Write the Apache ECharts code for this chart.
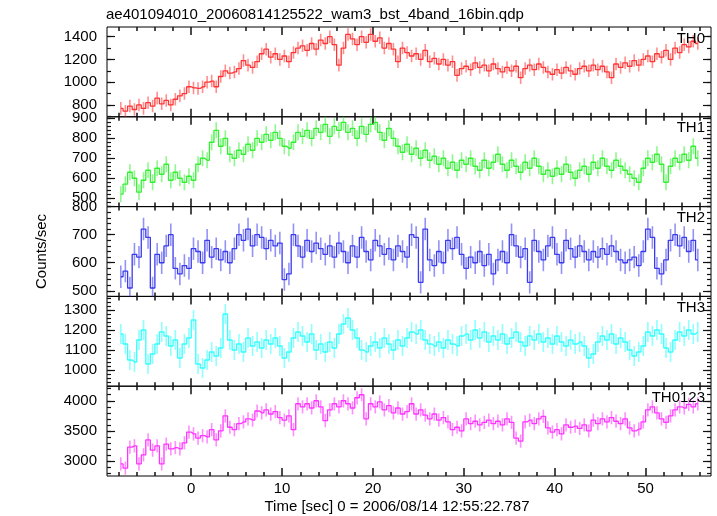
<!DOCTYPE html>
<html>
<head>
<meta charset="utf-8">
<script src="https://cdn.jsdelivr.net/npm/echarts@6/dist/echarts.min.js"></script>
<style>html,body{margin:0;padding:0;background:#fff}#c{width:717px;height:516px}</style>
</head>
<body>
<div id="c"></div>
<script>
// ---- data (bin centres: T_START + i*T_STEP, bin width T_STEP) ----
const T_START = -7.75;
const T_STEP = 0.5;
const titleText = 'ae401094010_20060814125522_wam3_bst_4band_16bin.qdp';
const xTitle = 'Time [sec] 0 = 2006/08/14 12:55:22.787';
const yTitle = 'Counts/sec';
const panelNames = ['TH0', 'TH1', 'TH2', 'TH3', 'TH0123'];
const xTickLabels = [0, 10, 20, 30, 40, 50];

const th0 = [770,745,790,760, 800,770,820,790, 860,810,840,800, 850,880,900,960,
  950,945,960,1000, 1010,960,1050,1100, 1080,1090,1120,1190, 1150,1130,1180,1250,
  1290,1220,1250,1200, 1230,1180,1260,1300, 1320,1280,1340,1290, 1370,1340,1400,1330,
  1150,1300,1420,1380, 1330,1400,1350,1420, 1360,1390,1300,1340, 1290,1180,1300,1260,
  1230,1250,1200,1280, 1180,1210,1160,1200, 1150,1180,1060,1120, 1140,1110,1170,1130,
  1150,1100,1160,1120, 1090,1130,1100,1140, 1040,1120,1150,1110, 1160,1130,1090,1070,
  1110,1080,1130,1100, 1070,1120,1140,1100, 1150,1110,1140,1090, 1040,1160,1130,1170,
  1140,1190,1150,1200, 1230,1180,1250,1220, 1280,1200,1300,1260, 1330,1310,1360,1340];
const th1 = [520,570,630,600, 530,590,640,580, 650,620,670,590, 630,600,580,610,
  590,670,700,690, 780,840,760,800, 720,700,740,720, 770,740,800,780,
  820,790,830,800, 760,750,780,830, 810,840,800,850, 830,870,810,860,
  840,880,830,850, 800,860,820,870, 880,830,790,850, 800,760,730,770,
  720,750,700,740, 690,710,670,700, 650,680,640,690, 670,700,660,640,
  690,650,680,720, 670,640,690,660, 630,680,650,700, 660,620,640,610,
  650,620,670,630, 600,640,660,620, 680,650,700,660, 640,690,660,640,
  620,600,580,650, 700,680,720,670, 580,660,700,680, 720,690,760,700];
const th2 = [550,570,510,630, 620,720,690,510, 630,600,660,700, 580,560,590,580,
  650,640,600,680, 620,650,610,640, 600,650,700,680, 720,660,700,690,
  650,680,660,670, 540,560,700,660, 620,680,640,670, 650,630,660,620,
  670,640,600,660, 620,690,640,610, 680,660,630,650, 610,660,640,620,
  700,690,530,720, 610,590,640,600, 680,650,690,630, 580,620,600,640,
  590,630,560,610, 640,600,700,660, 620,650,530,680, 640,610,660,690,
  630,600,680,650, 620,660,640,610, 640,620,650,630, 660,640,610,600,
  610,620,590,640, 720,690,580,560, 610,680,700,660, 690,640,680,610];
const th3 = [1180,1130,1050,1040, 1150,1200,1030,1080, 1130,1190,1170,1120, 1150,1060,1130,1160,
  1250,1030,1010,1050, 1090,1070,1110,1280, 1150,1100,1130,1090, 1160,1120,1140,1110,
  1150,1130,1160,1120, 1060,1090,1160,1190, 1170,1140,1180,1100, 1130,1090,1140,1110,
  1180,1230,1260,1200, 1160,1100,1090,1120, 1140,1110,1160,1130, 1100,1150,1120,1160,
  1190,1180,1200,1150, 1130,1120,1140,1110, 1150,1130,1120,1170, 1180,1150,1200,1160,
  1190,1140,1170,1150, 1180,1130,1160,1190, 1140,1120,1170,1150, 1180,1140,1160,1130,
  1170,1140,1120,1150, 1130,1140,1120,1060, 1080,1140,1170,1150, 1180,1130,1160,1140,
  1100,1070,1090,1120, 1190,1170,1200,1180, 1110,1090,1150,1190, 1170,1200,1180,1190];
const th0123 = [2950,2880,3230,3250, 2950,3100,3350,3180, 3250,2950,3280,3200, 3220,3200,3300,3480,
  3450,3380,3420,3400, 3520,3350,3500,3750, 3560,3520,3620,3650, 3700,3680,3830,3800,
  3850,3780,3820,3720, 3680,3750,3520,3950, 3900,3950,3880,4000, 3900,3670,3850,3950,
  3900,4000,3950,3880, 4050,4100,3700,3950, 3900,3980,3850,3920, 3800,3880,3780,3820,
  3950,3780,3850,3760, 3700,3780,3680,3720, 3650,3520,3560,3500, 3700,3620,3660,3600,
  3640,3680,3620,3660, 3600,3700,3640,3380, 3330,3650,3680,3620, 3700,3740,3550,3480,
  3520,3450,3600,3560, 3580,3540,3600,3500, 3680,3620,3700,3650, 3720,3660,3620,3700,
  3550,3500,3530,3650, 3850,3900,3800,3700, 3640,3750,3850,3900, 3880,3940,3900,3950];
// typical 1-sigma error half-length of each panel
const panelErrors = [55, 40, 40, 50, 110];

// axis ranges and tick labels per panel
const yRanges = [[696, 1485], [458, 907.5], [480, 800], [919, 1368], [2750, 4242]];
const yTickLabels = [[800, 1000, 1200, 1400], [500, 600, 700, 800, 900], [500, 600, 700, 800],
  [1000, 1100, 1200, 1300], [3000, 3500, 4000]];
const yMinorStep = [100, 20, 20, 20, 100];
const xRange = [-9.27, 57.2];

const seriesValues = [th0, th1, th2, th3, th0123];
const colors = ['#ff3333', '#33f033', '#3a3aee', '#33ffff', '#ff33ff'];

// ---- build ----
const FONT = '"Liberation Sans", Arial, Helvetica, sans-serif';
const gridTop0 = 27, gridH = 89.8, gridLeft = 107, gridRight = 6;
const majorLen = 8, minorLen = 4;

function stepValues(lo, hi, step) {
  const out = [];
  for (let v = Math.ceil(lo / step) * step; v <= hi + 1e-9; v += step) out.push(+v.toFixed(6));
  return out;
}
const xMinor = stepValues(xRange[0], xRange[1], 2);
const fmt = v => String(v);
const txt = {color: '#000', fontSize: 15, fontWeight: 'normal', fontFamily: FONT};

const grid = [], xAxis = [], yAxis = [], series = [];
const title = [
  {text: titleText, left: 106, top: 7, padding: 0, textStyle: txt},
  {text: xTitle, left: 397, top: 499, padding: 0, textAlign: 'center', textStyle: txt}
];
for (let p = 0; p < 5; p++) {
  grid.push({left: gridLeft, right: gridRight, top: gridTop0 + p * gridH, height: gridH,
    show: true, borderColor: '#000', borderWidth: 1, outerBoundsMode: 'none'});
  const isLast = p === 4;
  const xb = xAxis.length;
  const mkX = (pos, vals, len, labels) => ({
    type: 'value', gridIndex: p, position: pos, min: xRange[0], max: xRange[1],
    axisLine: {show: false, onZero: false}, splitLine: {show: false},
    axisTick: {show: true, inside: true, length: len, customValues: vals, lineStyle: {color: '#111', width: 1.5}},
    axisLabel: {show: labels, customValues: xTickLabels, formatter: fmt, color: '#000', fontSize: 15, fontFamily: FONT, margin: 5}
  });
  xAxis.push(mkX('bottom', xTickLabels, majorLen, isLast));
  xAxis.push(mkX('bottom', xMinor, minorLen, false));
  xAxis.push(mkX('top', xTickLabels, majorLen, false));
  xAxis.push(mkX('top', xMinor, minorLen, false));
  const yb = yAxis.length;
  const yMin = stepValues(yRanges[p][0], yRanges[p][1], yMinorStep[p]);
  const mkY = (pos, vals, len, labels, named) => {
    const ax = {
      type: 'value', gridIndex: p, position: pos, min: yRanges[p][0], max: yRanges[p][1],
      axisLine: {show: false, onZero: false}, splitLine: {show: false},
      axisTick: {show: true, inside: true, length: len, customValues: vals, lineStyle: {color: '#111', width: 1.2}},
      axisLabel: {show: labels, customValues: yTickLabels[p], formatter: fmt, color: '#000', fontSize: 15, fontFamily: FONT, margin: 10}
    };
    if (named) Object.assign(ax, {name: yTitle, nameLocation: 'middle', nameRotate: 90, nameGap: 58,
      nameTextStyle: {color: '#000', fontSize: 15, fontFamily: FONT}});
    return ax;
  };
  yAxis.push(mkY('left', yTickLabels[p], majorLen, true, p === 2));
  yAxis.push(mkY('left', yMin, minorLen, false, false));
  yAxis.push(mkY('right', yTickLabels[p], majorLen, false, false));
  yAxis.push(mkY('right', yMin, minorLen, false, false));

  const vals = seriesValues[p];
  const err = panelErrors[p];
  const data = vals.map((v, i) => [T_START + i * T_STEP, v, err]);
  const col = colors[p];
  series.push({
    type: 'custom', xAxisIndex: xb, yAxisIndex: yb, clip: true,
    data: data,
    renderItem: function (params, api) {
      const t = api.value(0), v = api.value(1), e = api.value(2);
      const hi = api.coord([t, v + e]), lo = api.coord([t, v - e]);
      return {type: 'line', shape: {x1: hi[0], y1: hi[1], x2: lo[0], y2: lo[1]},
        style: {stroke: col, lineWidth: 1.6, opacity: 0.55}};
    }
  });
  series.push({
    type: 'line', xAxisIndex: xb, yAxisIndex: yb, step: 'middle', showSymbol: false,
    clip: true, data: data.map(d => [d[0], d[1]]),
    lineStyle: {color: col, width: 1.3}
  });
  title.push({text: panelNames[p], right: 12, top: gridTop0 + p * gridH + 4, padding: 0, textStyle: txt});
}

const chart = echarts.init(document.getElementById('c'), null, {renderer: 'canvas'});
chart.setOption({
  animation: false,
  backgroundColor: '#fff',
  title, grid, xAxis, yAxis, series
});
</script>
</body>
</html>
